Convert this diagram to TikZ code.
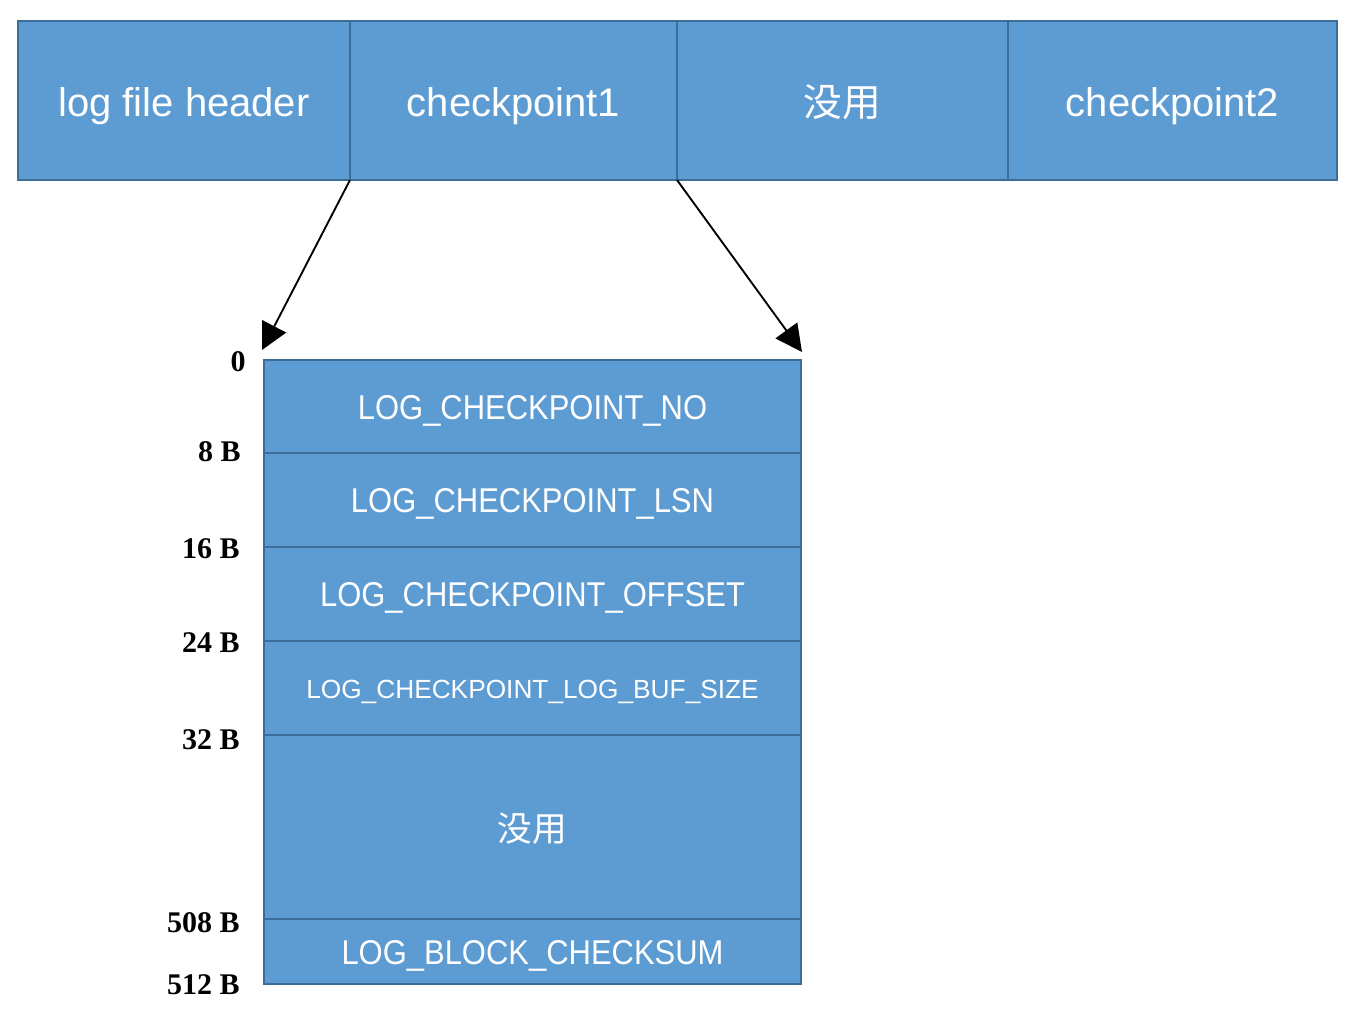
\documentclass[tikz,border=0pt]{standalone}
\usepackage{fontspec}
\setmainfont{Liberation Sans}
\newfontfamily\narrowsans{Liberation Sans}[FakeStretch=0.9]
\newfontfamily\cjk{Noto Sans CJK SC}
\newfontfamily\labfont{Liberation Serif}
\usetikzlibrary{arrows.meta}
\definecolor{cellfill}{HTML}{5D9BD3}
\definecolor{cellline}{HTML}{3C6C98}
\begin{document}
\begin{tikzpicture}[x=0.75pt,y=-0.75pt,
  cell/.style={draw=cellline,fill=cellfill,line width=1.9pt,text=white,inner sep=0pt,outer sep=0pt,text depth=0pt},
  topcell/.style={cell,minimum height=119.25pt,font=\fontsize{30}{36}\selectfont,text height=23.5pt},
  botcell/.style={cell,minimum width=402.75pt,font=\narrowsans\fontsize{25.8}{30}\selectfont,text height=18.75pt},
  lab/.style={anchor=east,inner sep=0pt,font=\labfont\bfseries\fontsize{22.5}{26}\selectfont},
  arr/.style={line width=1.4pt,-{Triangle[length=20pt,width=20pt]}}]
\useasboundingbox (0,0) rectangle (1362,1012);
% top row
\node[topcell,minimum width=249pt]   (hdr) at (184,100.5)    {log file header};
\node[topcell,minimum width=245.25pt] (cp1) at (513.5,100.5) {checkpoint1};
\node[topcell,minimum width=248.25pt,font=\cjk\fontsize{29}{34}\selectfont,text height=24pt] (nu1) at (842.5,100.5) {没用};
\node[topcell,minimum width=246.75pt] (cp2) at (1172.5,100.5) {checkpoint2};
% bottom column
\node[botcell,minimum height=69.75pt] (no)  at (532.5,406.5) {LOG\_CHECKPOINT\_NO};
\node[botcell,minimum height=70.5pt]  (lsn) at (532.5,500)   {LOG\_CHECKPOINT\_LSN};
\node[botcell,minimum height=70.5pt]  (off) at (532.5,594)   {LOG\_CHECKPOINT\_OFFSET};
\node[botcell,minimum height=70.5pt,font=\fontsize{19.7}{24}\selectfont,text height=15pt] (buf) at (532.5,688) {LOG\_CHECKPOINT\_LOG\_BUF\_SIZE};
\node[botcell,minimum height=138pt,font=\cjk\fontsize{26}{30}\selectfont,text height=21pt] (nu2) at (532.5,827) {没用};
\node[botcell,minimum height=48.75pt] (sum) at (532.5,951.5) {LOG\_BLOCK\_CHECKSUM};
% offsets
\node[lab] (o0)   at (246,362) {0};
\node[lab] (o8)   at (241,452) {8 B};
\node[lab] (o16)  at (240,549) {16 B};
\node[lab] (o24)  at (240,643) {24 B};
\node[lab] (o32)  at (240,740) {32 B};
\node[lab] (o508) at (240,923) {508 B};
\node[lab] (o512) at (240,985) {512 B};
% arrows
\coordinate (tl) at (262,350);
\coordinate (tr) at (802,352);
\draw[arr] (cp1.south west) -- (tl);
\draw[arr] (cp1.south east) -- (tr);
\end{tikzpicture}
\end{document}
